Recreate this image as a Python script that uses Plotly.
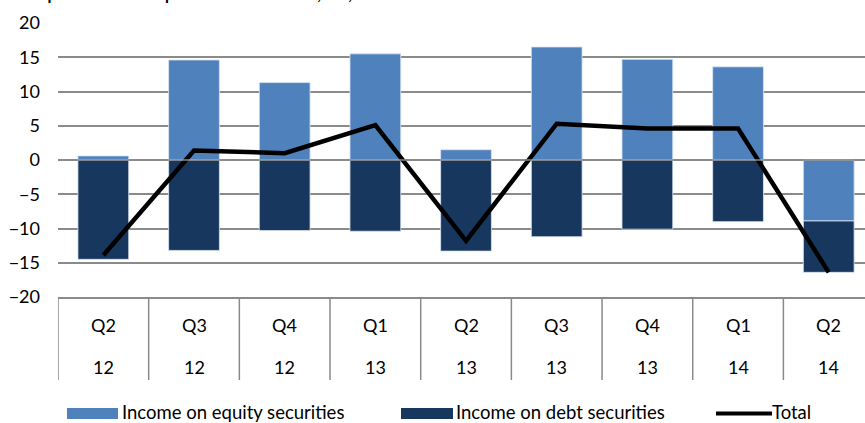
import plotly.graph_objects as go

quarters = ["Q2", "Q3", "Q4", "Q1", "Q2", "Q3", "Q4", "Q1", "Q2"]
years = ["12", "12", "12", "13", "13", "13", "13", "14", "14"]
equity = [0.6, 14.6, 11.3, 15.5, 1.5, 16.5, 14.7, 13.6, -8.9]
debt = [-14.5, -13.2, -10.3, -10.4, -13.3, -11.2, -10.1, -9.0, -7.5]
total = [-13.9, 1.4, 1.0, 5.1, -11.8, 5.3, 4.6, 4.6, -16.4]
title_text = "Graph 4: Income on portfolio investments, net, EUR bn"
legend_names = ["Income on equity securities", "Income on debt securities", "Total"]

W, H = 865, 423
ML, MR, MT, MB = 58, 0, 23, 126
PW, PH = W - ML - MR, H - MT - MB

FONT = "Lato"
GRID = "#8a8a8a"
C_EQ = "#4f81bd"
C_DEBT = "#17375e"

def px_x(px):
    return (px - ML) / PW

def px_y(py):
    return (H - MB - py) / PH

xs = list(range(len(quarters)))

fig = go.Figure()
fig.add_bar(x=xs, y=equity, name=legend_names[0], marker=dict(color=C_EQ, line=dict(color="rgba(220,230,242,0.8)", width=1)), showlegend=False)
fig.add_bar(x=xs, y=debt, name=legend_names[1], marker=dict(color=C_DEBT, line=dict(color="rgba(220,230,242,0.8)", width=1)), showlegend=False)
fig.add_scatter(x=xs, y=total, name=legend_names[2], mode="lines", line=dict(color="black", width=4.5), showlegend=False)

shapes = []
annotations = []
# zero line above bars
shapes.append(dict(type="line", xref="paper", yref="y", x0=0, x1=1, y0=0, y1=0, line=dict(color=GRID, width=1.5), layer="above"))
# category dividers in the axis label area
for i in range(len(quarters) + 1):
    shapes.append(dict(type="line", xref="x", yref="paper", x0=i - 0.5, x1=i - 0.5, y0=0, y1=px_y(380), line=dict(color=GRID, width=1.5)))
# category labels
for i, (q, yv) in enumerate(zip(quarters, years)):
    annotations.append(dict(x=i, y=px_y(325), xref="x", yref="paper", text=q, showarrow=False, font=dict(family=FONT, size=18, color="black"), xanchor="center", yanchor="middle"))
    annotations.append(dict(x=i, y=px_y(367), xref="x", yref="paper", text=yv, showarrow=False, font=dict(family=FONT, size=18, color="black"), xanchor="center", yanchor="middle"))

# custom legend
leg_y0, leg_y1 = px_y(419), px_y(408)
leg_yc = px_y(413.5)
txt_yc = px_y(411.5)
shapes.append(dict(type="rect", xref="paper", yref="paper", x0=px_x(67), x1=px_x(118), y0=leg_y0, y1=leg_y1, fillcolor=C_EQ, line=dict(width=0)))
shapes.append(dict(type="rect", xref="paper", yref="paper", x0=px_x(401), x1=px_x(453), y0=leg_y0, y1=leg_y1, fillcolor=C_DEBT, line=dict(width=0)))
shapes.append(dict(type="line", xref="paper", yref="paper", x0=px_x(716), x1=px_x(772), y0=leg_yc, y1=leg_yc, line=dict(color="black", width=4)))
for name, xpx in zip(legend_names, [121, 455, 771]):
    annotations.append(dict(x=px_x(xpx), y=txt_yc, xref="paper", yref="paper", text=name, showarrow=False, borderpad=0,
                            font=dict(family=FONT, size=18.5, color="black"), xanchor="left", yanchor="middle"))

# clipped title at very top
annotations.append(dict(x=px_x(20), y=px_y(-6.5), xref="paper", yref="paper", text="<b>" + title_text + "</b>", showarrow=False, font=dict(family=FONT, size=16, color="black"), xanchor="left", yanchor="middle"))

fig.update_layout(
    width=W, height=H,
    margin=dict(l=ML, r=MR, t=MT, b=MB, pad=0),
    paper_bgcolor="white", plot_bgcolor="white",
    barmode="relative", bargap=0.44,
    shapes=shapes, annotations=annotations,
    font=dict(family=FONT, size=17, color="black"),
)
fig.update_xaxes(range=[-0.5, 8.4], showgrid=False, zeroline=False, showticklabels=False, ticks="",
                 showline=True, linecolor=GRID, linewidth=1.5, fixedrange=True)
fig.update_yaxes(range=[-20, 20], tickvals=[-20, -15, -10, -5, 0, 5, 10, 15, 20], showgrid=True, gridcolor=GRID, gridwidth=1.5,
                 zeroline=False, showline=False, ticks="", ticklabelstandoff=17, tickfont=dict(family=FONT, size=18, color="black"))

fig.write_html("out.html", config={"displayModeBar": False},
               post_script="document.body.style.margin='0';document.body.style.overflow='hidden';")
